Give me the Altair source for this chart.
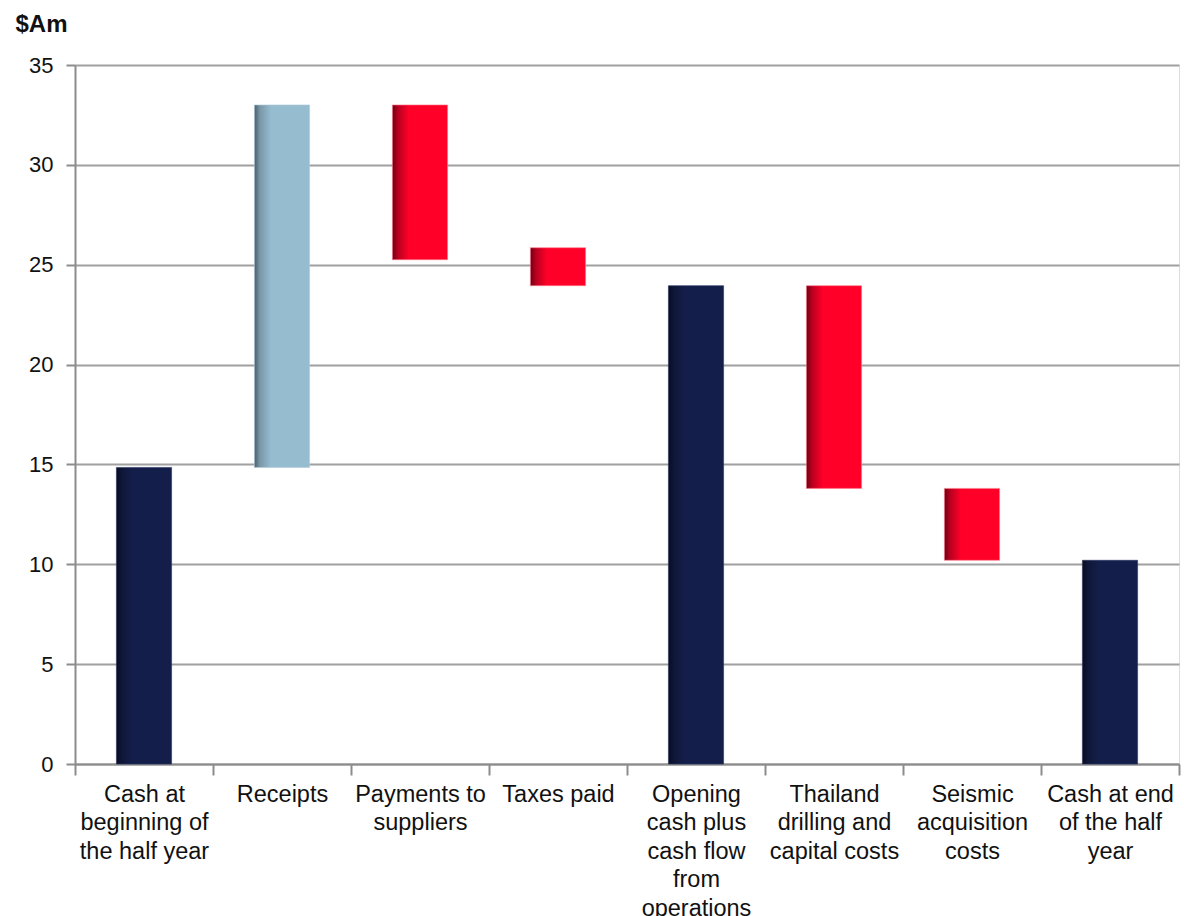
import altair as alt
import pandas as pd

categories = [
    "Cash at|beginning of|the half year",
    "Receipts",
    "Payments to|suppliers",
    "Taxes paid",
    "Opening|cash plus|cash flow|from|operations",
    "Thailand|drilling and|capital costs",
    "Seismic|acquisition|costs",
    "Cash at end|of the half|year",
]
starts = [0, 14.85, 33.0, 25.85, 0, 23.95, 13.8, 0]
ends = [14.85, 33.0, 25.25, 23.95, 23.95, 13.8, 10.2, 10.2]
kinds = ["total", "increase", "decrease", "decrease", "total", "decrease", "decrease", "total"]

df = pd.DataFrame({"category": categories, "start": starts, "end": ends, "kind": kinds})


def grad(dark, mid, main):
    return alt.Gradient(
        gradient="linear",
        stops=[
            alt.GradientStop(offset=0, color=dark),
            alt.GradientStop(offset=0.1, color=mid),
            alt.GradientStop(offset=0.3, color=main),
            alt.GradientStop(offset=1, color=main),
        ],
        x1=0, x2=1, y1=0, y2=0,
    )


fills = {
    "total": grad("#080c22", "#0f1738", "#141e4a"),
    "increase": grad("#4a5f6b", "#7a97a8", "#96bcd0"),
    "decrease": grad("#6e0014", "#b8001f", "#ff0028"),
}
strokes = {"total": "#2a3360", "increase": "#b0ccdb", "decrease": "#ff7a8a"}

x = alt.X(
    "category:N",
    sort=categories,
    title=None,
    scale=alt.Scale(paddingInner=0, paddingOuter=0),
    axis=alt.Axis(
        labelAngle=0,
        labelExpr="split(datum.label, '|')",
        labelLineHeight=28.5,
        labelFontSize=23.5,
        labelFont="Liberation Sans",
        labelColor="#111111",
        labelPadding=7,
        labelLimit=0,
        tickBand="extent",
        tickSize=11,
        tickColor="#8c8c8c",
        tickWidth=2,
        domainColor="#8c8c8c",
        domainWidth=2,
        grid=False,
    ),
)
y = alt.Y(
    "start:Q",
    scale=alt.Scale(domain=[0, 35], nice=False),
    axis=alt.Axis(
        values=[0, 5, 10, 15, 20, 25, 30, 35],
        title="$Am",
        titleAngle=0,
        titleAlign="left",
        titleBaseline="alphabetic",
        titleX=-60,
        titleY=-34,
        titleFont="Liberation Sans",
        titleFontSize=24,
        titleFontWeight="bold",
        titleColor="#111111",
        labelFontSize=22,
        labelFont="Liberation Sans",
        labelColor="#111111",
        labelPadding=13,
        tickSize=9,
        tickColor="#8c8c8c",
        tickWidth=2,
        domainColor="#8c8c8c",
        domainWidth=2,
        grid=True,
        gridColor="#a0a0a0",
        gridWidth=2,
    ),
)

base = alt.Chart(df)
layers = []
for k in ["total", "increase", "decrease"]:
    layers.append(
        base.transform_filter(alt.datum.kind == k)
        .mark_bar(
            color=fills[k],
            stroke=strokes[k],
            strokeWidth=1,
            strokeOpacity=0.6,
            width=alt.RelativeBandSize(0.4),
        )
        .encode(x=x, y=y, y2="end:Q")
    )

chart = (
    alt.layer(*layers)
    .properties(
        width=1104,
        height=699,
        autosize=alt.AutoSizeParams(type="none"),
        padding={"left": 75, "top": 65, "right": 5, "bottom": 152},
    )
    .configure_view(stroke=None)
    .configure(background="white")
)

chart.save("out.html", embed_options={"renderer": "svg", "actions": False})
